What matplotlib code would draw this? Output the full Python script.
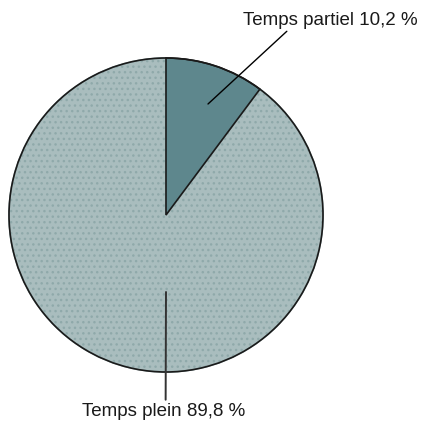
import matplotlib.pyplot as plt

# data
labels = ['Temps partiel 10,2 %', 'Temps plein 89,8 %']
values = [10.2, 89.8]
colors = ['#5e878d', '#a9bdbe']

W, H = 422, 423
fig = plt.figure(figsize=(W / 100, H / 100), dpi=100)
ax = fig.add_axes([0, 0, 1, 1])

cx, cy, r = 166, H - 215, 157
wedges, _ = ax.pie(values, colors=colors, startangle=90, counterclock=False,
                   center=(cx, cy), radius=r, frame=True,
                   wedgeprops=dict(edgecolor='#1a1a1a', linewidth=1.2))
# dotted texture on the big slice, the small slice outline stays on top
wedges[1].set_hatch('...')
wedges[1].set_edgecolor('#8fa9aa')
wedges[1].set_zorder(1)
wedges[0].set_zorder(3)
outline = plt.Circle((cx, cy), r, fill=False, edgecolor='#1a1a1a', linewidth=1.2, zorder=4)
ax.add_patch(outline)

ax.set_xlim(0, W)
ax.set_ylim(0, H)
ax.set_aspect('equal')
ax.axis('off')

font = dict(family=['Liberation Sans', 'DejaVu Sans'], fontsize=13.5, color='#1a1a1a')

# leader lines + labels
ax.annotate(labels[0], xy=(208, H - 104), xytext=(330, H - 20),
            ha='center', va='center', zorder=5, **font,
            arrowprops=dict(arrowstyle='-', color='black', lw=1,
                            shrinkA=0, shrinkB=0, relpos=(0.27, 0)))
ax.annotate(labels[1], xy=(166, H - 292), xytext=(164, H - 411),
            ha='center', va='center', zorder=5, **font,
            arrowprops=dict(arrowstyle='-', color='#333333', lw=1.4,
                            shrinkA=0, shrinkB=0, relpos=(0.51, 1)))

fig.savefig('out.png', dpi=100)
